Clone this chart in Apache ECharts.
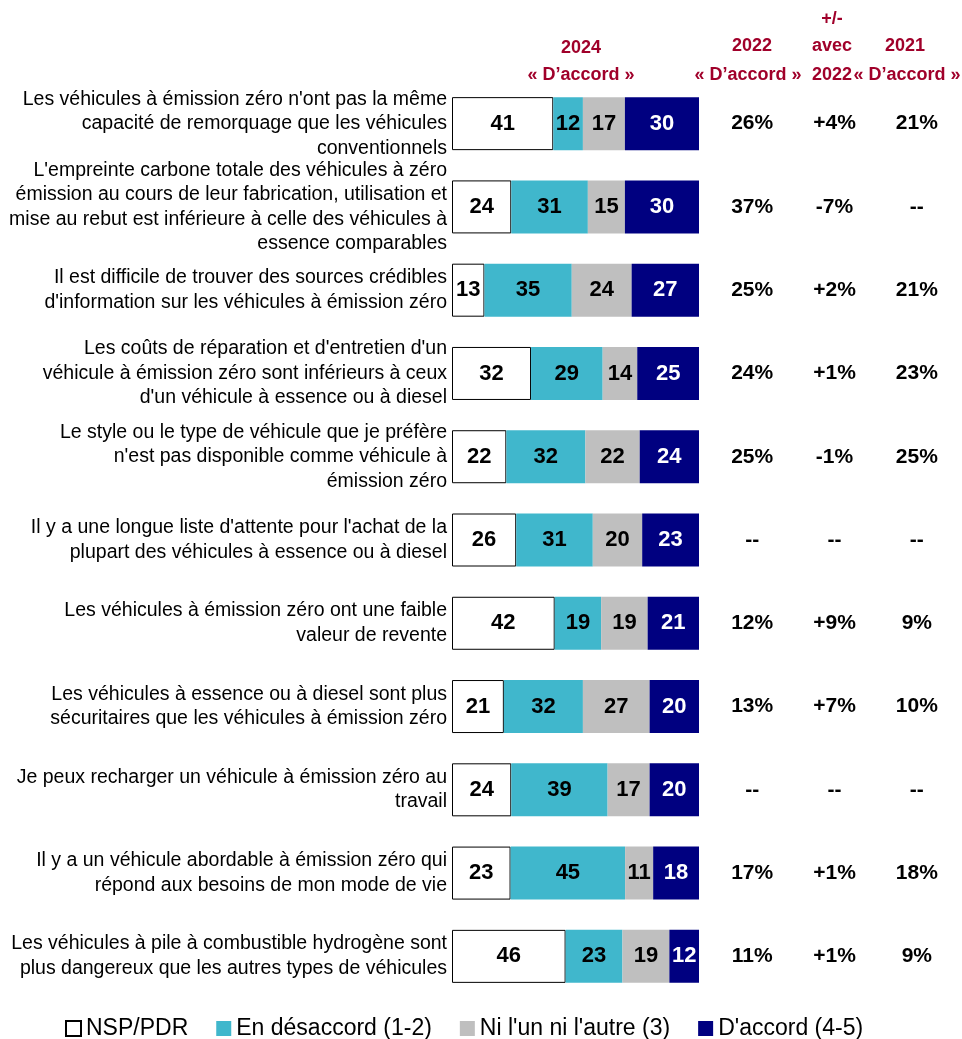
<!DOCTYPE html>
<html>
<head>
<meta charset="UTF-8">
<title>Véhicules à émission zéro</title>
<script src="https://cdn.jsdelivr.net/npm/echarts@6/dist/echarts.min.js"></script>
<style>
    body { margin: 0; background: #fff; }
    #chart { width: 962px; height: 1039px; }
</style>
</head>
<body>
<div id="chart"></div>
<script>
// énoncés (de haut en bas)
const categories = [
    "Les véhicules à émission zéro n'ont pas la même\ncapacité de remorquage que les véhicules\nconventionnels",
    "L'empreinte carbone totale des véhicules à zéro\némission au cours de leur fabrication, utilisation et\nmise au rebut est inférieure à celle des véhicules à\nessence comparables",
    "Il est difficile de trouver des sources crédibles\nd'information sur les véhicules à émission zéro",
    "Les coûts de réparation et d'entretien d'un\nvéhicule à émission zéro sont inférieurs à ceux\nd'un véhicule à essence ou à diesel",
    "Le style ou le type de véhicule que je préfère\nn'est pas disponible comme véhicule à\némission zéro",
    "Il y a une longue liste d'attente pour l'achat de la\nplupart des véhicules à essence ou à diesel",
    "Les véhicules à émission zéro ont une faible\nvaleur de revente",
    "Les véhicules à essence ou à diesel sont plus\nsécuritaires que les véhicules à émission zéro",
    "Je peux recharger un véhicule à émission zéro au\ntravail",
    "Il y a un véhicule abordable à émission zéro qui\nrépond aux besoins de mon mode de vie",
    "Les véhicules à pile à combustible hydrogène sont\nplus dangereux que les autres types de véhicules"
];

// 2024, en %
const nspPdr     = [41, 24, 13, 32, 22, 26, 42, 21, 24, 23, 46];
const desaccord  = [12, 31, 35, 29, 32, 31, 19, 32, 39, 45, 23];
const niNi       = [17, 15, 24, 14, 22, 20, 19, 27, 17, 11, 19];
const daccord    = [30, 30, 27, 25, 24, 23, 21, 20, 20, 18, 12];

// colonnes de droite (null = --)
const accord2022 = [26, 37, 25, 24, 25, null, 12, 13, null, 17, 11];
const ecart2022  = [4, -7, 2, 1, -1, null, 9, 7, null, 1, 1];
const accord2021 = [21, null, 21, 23, 25, null, 9, 10, null, 18, 9];

const seriesNames = ['NSP/PDR', 'En désaccord (1-2)', "Ni l'un ni l'autre (3)", "D'accord (4-5)"];
const seriesValues = [nspPdr, desaccord, niNi, daccord];
const colors = ['#ffffff', '#40b7cc', '#bfbfbf', '#000080'];
const labelColors = ['#000', '#000', '#000', '#fff'];

const FONT = 'Liberation Sans';
const RED = '#a0002a';

// chaque barre remplit toute la largeur (arrondis)
const totals = categories.map((c, i) => seriesValues.reduce((s, arr) => s + arr[i], 0));

const barSeries = seriesValues.map(function(arr, k) {
    return {
        name: seriesNames[k],
        type: 'bar',
        stack: 'total',
        barWidth: 53,
        xAxisIndex: 0,
        yAxisIndex: 0,
        data: arr.map((v, i) => ({ value: v / totals[i] * 100, raw: v })),
        itemStyle: {
            color: colors[k],
            borderColor: k === 0 ? '#000' : colors[k],
            borderWidth: k === 0 ? 1 : 0
        },
        label: {
            show: true,
            position: 'inside',
            formatter: p => p.data.raw,
            color: labelColors[k],
            fontFamily: FONT,
            fontWeight: 'bold',
            fontSize: 22
        },
        emphasis: { disabled: true }
    };
});

function fmtPct(v) { return v === null ? '--' : v + '%'; }
function fmtDiff(v) { return v === null ? '--' : (v > 0 ? '+' : '') + v + '%'; }

const sideCols = [
    { data: accord2022, fmt: fmtPct },
    { data: ecart2022, fmt: fmtDiff },
    { data: accord2021, fmt: fmtPct }
];

const sideSeries = sideCols.map(function(col, c) {
    return {
        type: 'scatter',
        xAxisIndex: 1,
        yAxisIndex: 1,
        symbolSize: 1,
        itemStyle: { color: 'rgba(0,0,0,0)', opacity: 1 },
        data: col.data.map((v, i) => ({ value: [c, i], txt: col.fmt(v) })),
        label: {
            show: true,
            position: 'inside',
            formatter: p => p.data.txt,
            color: '#000',
            opacity: 1,
            fontFamily: FONT,
            fontWeight: 'bold',
            fontSize: 21
        },
        emphasis: { disabled: true },
        silent: true
    };
});

const headStyle = { fill: RED, font: 'bold 18px "' + FONT + '"', textAlign: 'center', textVerticalAlign: 'middle' };
function head(x, y, text) {
    return { type: 'text', x: x, y: y, style: Object.assign({ text: text }, headStyle) };
}

const chart = echarts.init(document.getElementById('chart'));
chart.setOption({
    animation: false,
    textStyle: { fontFamily: FONT },
    grid: [
        { left: 452, right: 263, top: 82, bottom: 41 },
        { left: 711, right: 4, top: 82, bottom: 41 }
    ],
    xAxis: [
        { type: 'value', gridIndex: 0, min: 0, max: 100, show: false },
        { type: 'category', gridIndex: 1, data: ['2022', '+/-', '2021'], show: false }
    ],
    yAxis: [
        {
            type: 'category',
            gridIndex: 0,
            inverse: true,
            data: categories,
            axisLine: { show: false },
            axisTick: { show: false },
            axisLabel: {
                interval: 0,
                margin: 5,
                color: '#000',
                fontFamily: FONT,
                fontSize: 19.5,
                lineHeight: 24.5,
                align: 'right'
            }
        },
        { type: 'category', gridIndex: 1, inverse: true, data: categories, show: false }
    ],
    legend: {
        top: 1012,
        left: 60,
        itemWidth: 15,
        itemHeight: 15,
        itemGap: 28,
        icon: 'rect',
        data: seriesNames,
        textStyle: { fontFamily: FONT, fontSize: 23, color: '#000' },
        selectedMode: false
    },
    graphic: [
        head(581, 48, '2024'),
        head(581, 75, '« D’accord »'),
        head(752, 46, '2022'),
        head(748, 75, '« D’accord »'),
        head(832, 19, '+/-'),
        head(832, 46, 'avec'),
        head(832, 75, '2022'),
        head(905, 46, '2021'),
        head(907, 75, '« D’accord »')
    ],
    series: barSeries.concat(sideSeries)
});
</script>
</body>
</html>
